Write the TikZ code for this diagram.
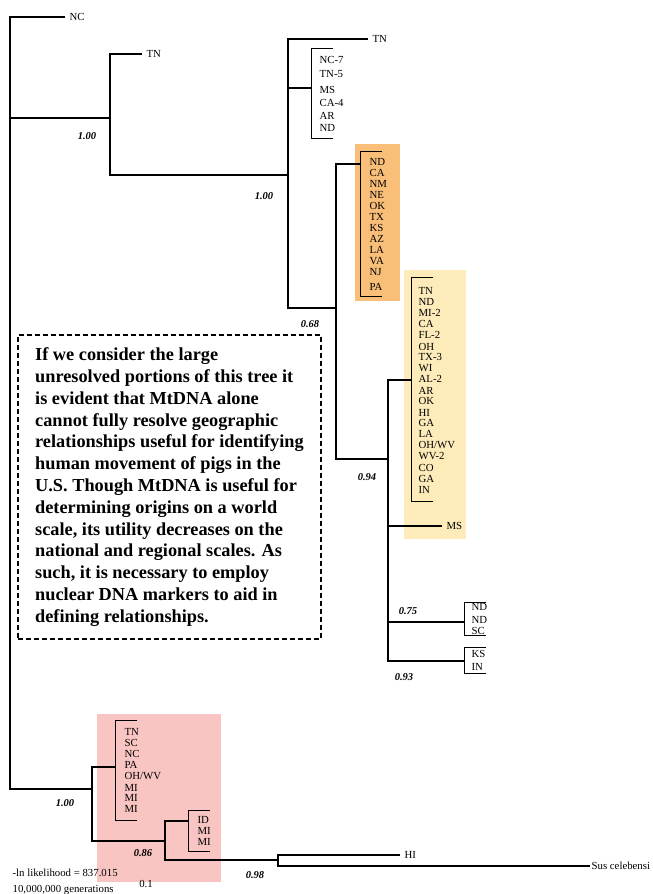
\documentclass[tikz,border=0pt]{standalone}
\usepackage{fontspec}
\setmainfont{Liberation Serif}
\usepackage{xcolor}
\usetikzlibrary{positioning}
\definecolor{orangebox}{HTML}{F9BE78}
\definecolor{yellowbox}{HTML}{FDEBBA}
\definecolor{pinkbox}{HTML}{F8C5C2}

\begin{document}
\begin{tikzpicture}[x=1pt,y=-1pt,line width=1.2pt,
  leaf/.style={anchor=west,inner xsep=4pt,inner ysep=0pt,text height=7pt,text depth=0pt,font=\fontsize{10.8}{11}\selectfont},
  tip/.style={anchor=west,inner sep=0pt,text height=7pt,text depth=0pt,font=\fontsize{10.8}{11}\selectfont},
  sup/.style={inner sep=0pt,font=\fontsize{10.5}{11}\selectfont\bfseries\itshape},
  brk/.style={line width=1pt},
  note/.style={draw,dash pattern=on 5pt off 3pt,line width=1.1pt,minimum width=303pt,minimum height=304pt,
    align=left,inner sep=0pt,font=\fontsize{18.3}{21.8}\selectfont\bfseries}]
\useasboundingbox (0,0) rectangle (653,894);

% coloured clades
\fill[orangebox] (355,144) rectangle (400,301);
\fill[yellowbox] (404,270) rectangle (466,539);
\fill[pinkbox] (97,714) rectangle (221,882);

% internal nodes
\coordinate (n0) at (10,400);
\coordinate (n1) at (110,118);
\coordinate (n2) at (288,175);
\coordinate (n3) at (336,308);
\coordinate (n4) at (388,459);
\coordinate (n5) at (92,789);
\coordinate (n6) at (165,841);
\coordinate (n7) at (278,860);

% unresolved groups
\foreach \b/\x/\s/\t/\u in {bA/311/88/48/138, bO/360/164/151/296, bY/411/380/277/501,
    bN/464/622/602/635, bK/464/661/647/673, bP/115/767/720/820, bI/188/821/810/851}{
  \coordinate (\b) at (\x,\s);
  \draw[brk] (\x+22,\t) -- (\x,\t) -- (\x,\u) -- (\x+22,\u);
}

% single leaves
\node[leaf] (nc) at (65,17) {NC};
\node[leaf] (tn1) at (142,54) {TN};
\node[leaf] (tn2) at (368,39) {TN};
\node[leaf] (ms) at (442,526) {MS};
\node[leaf] (hi) at (400,855) {HI};
\node[leaf,inner xsep=1pt] (sus) at (590,866) {Sus celebensi};

% branches
\draw (n0) |- (nc);  \draw (n0) |- (n1);  \draw (n0) |- (n5);
\draw (n1) |- (tn1); \draw (n1) |- (n2);
\draw (n2) |- (tn2); \draw (n2) |- (bA);  \draw (n2) |- (n3);
\draw (n3) |- (bO);  \draw (n3) |- (n4);
\draw (n4) |- (bY);  \draw (n4) |- (ms);  \draw (n4) |- (bN);  \draw (n4) |- (bK);
\draw (n5) |- (bP);  \draw (n5) |- (n6);
\draw (n6) |- (bI);  \draw (n6) |- (n7);
\draw (n7) |- (hi);  \draw (n7) |- (sus);

% group labels
\foreach \t/\y [count=\i] in {NC-7/60, TN-5/74, MS/90, CA-4/103, AR/116, ND/128}
  \node[tip] (a\i) at (319,\y) {\t};
\foreach \t/\y [count=\i] in {ND/162, CA/173, NM/184, NE/195, OK/206, TX/217, KS/228,
    AZ/239, LA/250, VA/261, NJ/272, PA/287}
  \node[tip] (o\i) at (369,\y) {\t};
\foreach \t/\y [count=\i] in {TN/291, ND/302, MI-2/313, CA/324, FL-2/335, OH/347, TX-3/357,
    WI/368, AL-2/379, AR/391, OK/401, HI/413, GA/423, LA/434, OH\slash WV/445, WV-2/456,
    CO/468, GA/479, IN/490}
  \node[tip] (y\i) at (418,\y) {\t};
\foreach \t/\y [count=\i] in {ND/607, ND/620, SC/631, KS/654, IN/667}
  \node[tip] (d\i) at (471,\y) {\t};
\foreach \t/\y [count=\i] in {TN/732, SC/743, NC/754, PA/765, OH\slash WV/776, MI/788, MI/798, MI/809}
  \node[tip] (p\i) at (124,\y) {\t};
\foreach \t/\y [count=\i] in {ID/820, MI/831, MI/842}
  \node[tip] (i\i) at (197,\y) {\t};

% support values
\node[sup] (s1) at (87,136) {1.00};
\node[sup] (s2) at (264,196) {1.00};
\node[sup] (s3) at (310,324) {0.68};
\node[sup] (s4) at (367,477) {0.94};
\node[sup] (s5) at (408,611) {0.75};
\node[sup] (s6) at (404,677) {0.93};
\node[sup] (s7) at (65,803) {1.00};
\node[sup] (s8) at (143,853) {0.86};
\node[sup] (s9) at (255,875) {0.98};

% run info
\node[tip] (lik) at (12,873) {-ln likelihood = 837.015};
\node[tip,anchor=center] (scl) at (146,884) {0.1};
\node[tip] (gen) at (12,889) {10,000,000 generations};

% comment box
\node[note] (txt) at (169.5,487) {If we consider the large\\
unresolved portions of this tree it\\
is evident that MtDNA alone\\
cannot fully resolve geographic\\
relationships useful for identifying\\
human movement of pigs in the\\
U.S. Though MtDNA is useful for\\
determining origins on a world\\
scale, its utility decreases on the\\
national and regional scales. As\\
such, it is necessary to employ\\
nuclear DNA markers to aid in\\
defining relationships.};
\end{tikzpicture}
\end{document}
